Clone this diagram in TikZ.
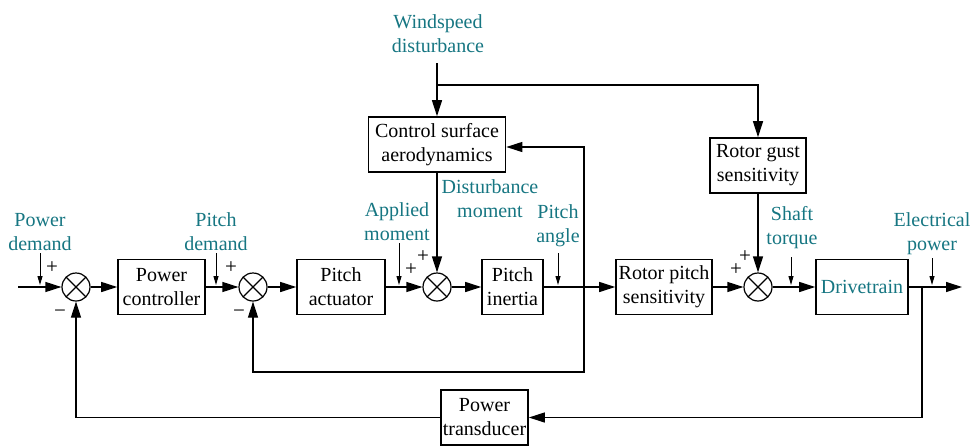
\documentclass[tikz,border=0pt]{standalone}
\usepackage{fontspec}
\setmainfont{Liberation Serif}
\usetikzlibrary{arrows.meta}
\definecolor{tealA}{RGB}{22,118,130}
\begin{document}
\begin{tikzpicture}[x=1pt,y=-1pt,
  txt/.style={font=\fontsize{20}{24}\selectfont},
  box/.style={txt,draw,line width=1.6pt,minimum height=55pt,inner sep=0pt,align=center},
  sj/.style={draw,circle,line width=1.2pt,minimum size=28pt,inner sep=0pt,
    path picture={\draw[line width=1.1pt] (path picture bounding box.north west)--(path picture bounding box.south east)
      (path picture bounding box.north east)--(path picture bounding box.south west);}},
  lbl/.style={txt,text=tealA,align=center,inner sep=0pt},
  conn/.style={line width=1.2pt,-{Triangle[length=16pt,width=10pt]}},
  sarr/.style={line width=1pt,-{Triangle[length=9pt,width=5pt]}},
  sign/.style={font=\fontsize{21}{24}\selectfont,inner sep=0pt,text height=11pt,text depth=-1pt}]
\useasboundingbox (0,0) rectangle (973,447);

% blocks
\node[box,minimum width=87pt] (pc) at (161.5,287) {Power\\controller};
\node[box,minimum width=88pt] (pa) at (341,287) {Pitch\\actuator};
\node[box,minimum width=61pt] (pi) at (512.5,287) {Pitch\\inertia};
\node[box,minimum width=96pt] (rps) at (664,287) {Rotor pitch\\sensitivity};
\node[box,minimum width=92pt,text=tealA] (dt) at (862,287) {Drivetrain};
\node[box,minimum width=137pt] (csa) at (437,144.5) {Control surface\\aerodynamics};
\node[box,minimum width=96pt] (rgs) at (758,165.5) {Rotor gust\\sensitivity};
\node[box,minimum width=87pt] (pt) at (484.5,417.5) {Power\\transducer};

% summing junctions
\node[sj] (s1) at (76,287) {};
\node[sj] (s2) at (253,287) {};
\node[sj] (s3) at (437,287) {};
\node[sj] (s4) at (758,287) {};

% coordinates
\coordinate (in) at (18,287);
\coordinate (out) at (962,287);
\coordinate (b1) at (584,287);
\coordinate (c1) at (584,372);
\coordinate (b2) at (922,287);
\coordinate (w0) at (437,63);
\coordinate (w1) at (437,85);

% main path
\draw[conn] (in) -- (s1);
\draw[conn] (s1) -- (pc);
\draw[conn] (pc) -- (s2);
\draw[conn] (s2) -- (pa);
\draw[conn] (pa) -- (s3);
\draw[conn] (s3) -- (pi);
\draw[conn] (pi) -- (rps);
\draw[conn] (rps) -- (s4);
\draw[conn] (s4) -- (dt);
\draw[conn] (dt) -- (out);

% feedbacks
\draw[conn] (b2) |- (pt.east);
\draw[conn] (pt.west) -| (s1.south);
\draw[conn] (b1) |- ([yshift=-2.5pt]csa.east);
\draw[conn] (b1) -- (c1) -| (s2.south);
\draw[conn] (csa.south) -- (s3.north);
\draw[conn] (rgs.south) -- (s4.north);
\draw[conn] (w0) -- (csa.north);
\draw[conn] (w1) -| (rgs.north);

% labels
\node[lbl] (lwind) at (438,33.5) {Windspeed\\disturbance};
\node[lbl] (lpd) at (40,232) {Power\\demand};
\node[lbl] (lpid) at (216,232) {Pitch\\demand};
\node[lbl] (lam) at (397,221.5) {Applied\\moment};
\node[lbl] (ldm) at (490,198.5) {Disturbance\\moment};
\node[lbl] (lpa) at (558,226) {Pitch\\angle};
\node[lbl] (lst) at (792,227.5) {Shaft\\torque};
\node[lbl] (lep) at (932,233.5) {Electrical\\power};

% label arrows
\coordinate (a1) at (40,253);  \coordinate (a1e) at (40,285);
\coordinate (a2) at (216,253); \coordinate (a2e) at (216,285);
\coordinate (a3) at (399,243); \coordinate (a3e) at (399,285);
\coordinate (a4) at (558,253); \coordinate (a4e) at (558,285);
\coordinate (a5) at (791,257); \coordinate (a5e) at (791,285);
\coordinate (a6) at (932,258); \coordinate (a6e) at (932,285);
\draw[sarr] (a1) -- (a1e);
\draw[sarr] (a2) -- (a2e);
\draw[sarr] (a3) -- (a3e);
\draw[sarr] (a4) -- (a4e);
\draw[sarr] (a5) -- (a5e);
\draw[sarr] (a6) -- (a6e);

% signs
\node[sign] (p1) at (52,268) {+};
\node[sign] (m1) at (60,312) {−};
\node[sign] (p2) at (231,268) {+};
\node[sign] (m2) at (239,312) {−};
\node[sign] (p3a) at (411,269.5) {+};
\node[sign] (p3b) at (423,256.5) {+};
\node[sign] (p4a) at (736,269.5) {+};
\node[sign] (p4b) at (745,256.5) {+};
\end{tikzpicture}
\end{document}
